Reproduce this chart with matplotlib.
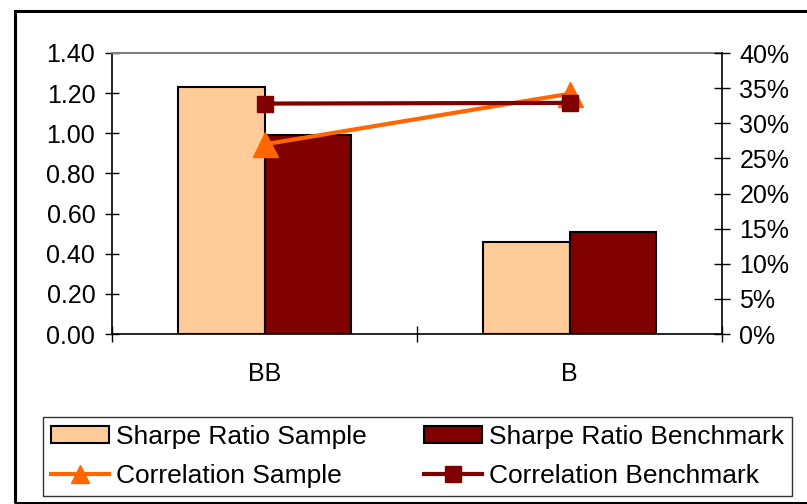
import matplotlib
matplotlib.use("Agg")
import matplotlib.pyplot as plt
import numpy as np
from matplotlib.lines import Line2D
from matplotlib.patches import Patch, Rectangle
from matplotlib.ticker import FuncFormatter

plt.rcParams['font.family'] = ['Liberation Sans', 'DejaVu Sans']

# data
categories = ['BB', 'B']
sharpe_sample = [1.23, 0.46]
sharpe_bench = [0.99, 0.51]
corr_sample = [0.27, 0.342]
corr_bench = [0.328, 0.329]
left_ticks = [0.0, 0.2, 0.4, 0.6, 0.8, 1.0, 1.2, 1.4]
right_ticks = [0.0, 0.05, 0.10, 0.15, 0.20, 0.25, 0.30, 0.35, 0.40]

c_sample = '#FFCC99'
c_bench = '#800000'
c_orange = '#FF6600'

W, H = 807, 504
fig = plt.figure(figsize=(W / 100, H / 100), dpi=100)
ax = fig.add_axes([112 / W, 1 - 334 / H, (722 - 112) / W, (334 - 53) / H])

x = np.arange(len(categories))
bw = 0.284
ax.bar(x - bw / 2, sharpe_sample, bw, color=c_sample, edgecolor='black', linewidth=1.5, zorder=2)
ax.bar(x + bw / 2, sharpe_bench, bw, color=c_bench, edgecolor='black', linewidth=1.5, zorder=2)

ax.set_xlim(-0.5, len(categories) - 0.5)
ax.set_ylim(0, 1.4)
ax.set_yticks(left_ticks)
ax.yaxis.set_major_formatter(FuncFormatter(lambda v, p: '%.2f' % v))
ax.set_xticks([-0.5, 0.5, 1.5])
ax.set_xticklabels(['', '', ''])
ax.set_xticks(x, minor=True)
ax.set_xticklabels(categories, minor=True)
ax.tick_params(axis='x', which='minor', length=0, pad=20, labelsize=18)
ax.tick_params(axis='x', which='major', direction='inout', length=11, width=1)
ax.tick_params(axis='y', direction='inout', length=10, width=1, pad=7, labelsize=18)
for s in ['left', 'bottom']:
    ax.spines[s].set_color('black')
    ax.spines[s].set_linewidth(1.2)
ax.spines['top'].set_color('#808080')
ax.spines['top'].set_linewidth(1.5)
ax.spines['right'].set_visible(False)

ax2 = ax.twinx()
ax2.plot(x, corr_sample, color=c_orange, lw=3, marker='^', markersize=18, zorder=3)
ax2.plot(x, corr_bench, color=c_bench, lw=3, marker='s', markersize=11, zorder=4)
ax2.set_ylim(0, 0.40)
ax2.set_yticks(right_ticks)
ax2.yaxis.set_major_formatter(FuncFormatter(lambda v, p: '%d%%' % round(v * 100)))
ax2.tick_params(axis='y', direction='inout', length=11, width=1, pad=7, labelsize=18)
for s in ['top', 'left', 'bottom']:
    ax2.spines[s].set_visible(False)
ax2.spines['right'].set_color('black')
ax2.spines['right'].set_linewidth(1.2)

handles = [
    Patch(facecolor=c_sample, edgecolor='black', linewidth=1.5),
    Line2D([], [], color=c_orange, lw=3, marker='^', markersize=13),
    Patch(facecolor=c_bench, edgecolor='black', linewidth=1.5),
    Line2D([], [], color=c_bench, lw=3, marker='s', markersize=11),
]
labels = ['Sharpe Ratio Sample', 'Correlation Sample',
          'Sharpe Ratio Benchmark', 'Correlation Benchmark']
leg = fig.legend(handles, labels, ncol=2, loc='upper left',
                 bbox_to_anchor=(43 / W, 1 - 417 / H),
                 borderaxespad=0, fontsize=19, frameon=True,
                 fancybox=False, edgecolor='black', handlelength=2.2,
                 handleheight=0.6, handletextpad=0.25, labelspacing=0.57,
                 borderpad=0.3, columnspacing=2.2)
leg.get_frame().set_linewidth(1.0)

fig.patches.append(Rectangle((15 / W, 1 - 503 / H), 1.0, 492 / H,
                             transform=fig.transFigure, fill=False,
                             edgecolor='black', linewidth=2.2, clip_on=False))

fig.savefig('out.png', dpi=100)
